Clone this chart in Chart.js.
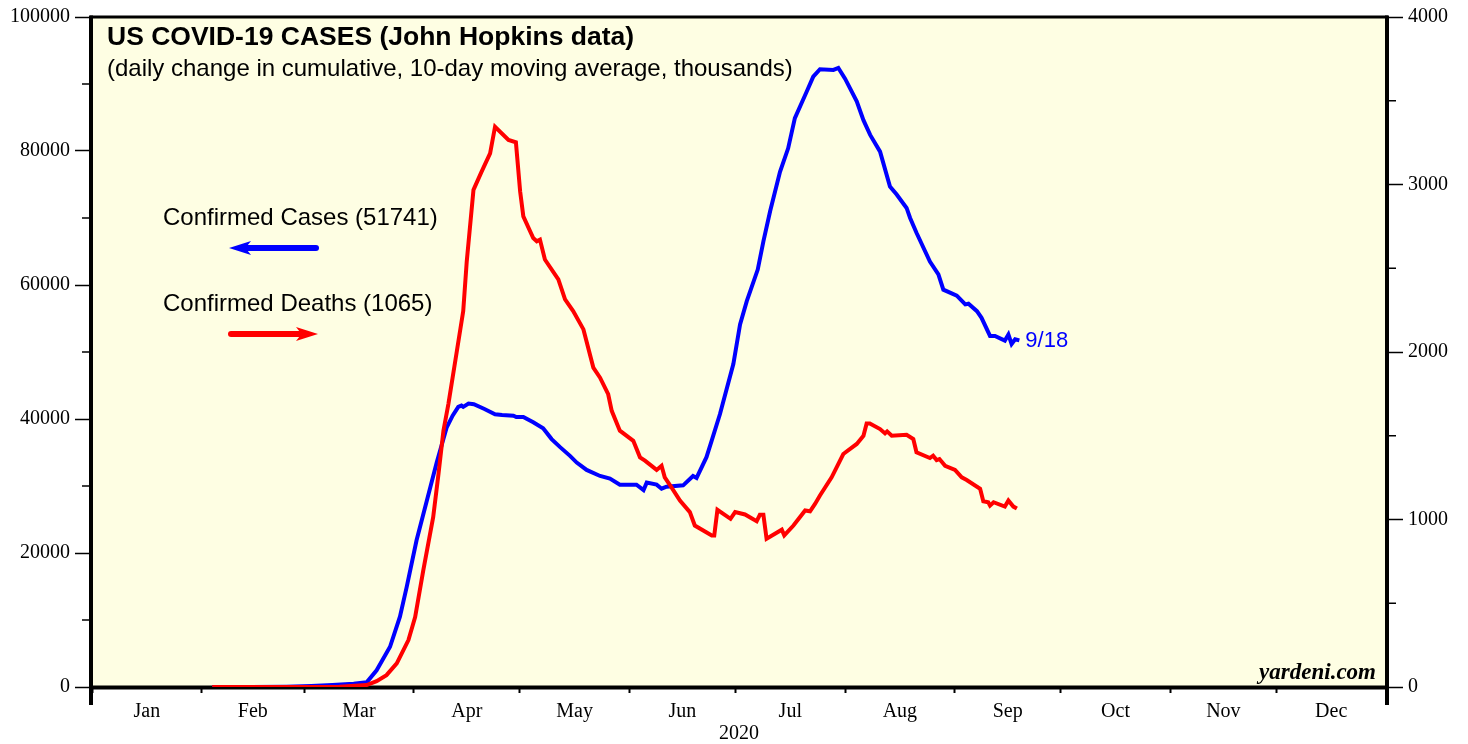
<!DOCTYPE html>
<html>
<head>
<meta charset="utf-8">
<title>US COVID-19 cases</title>
<script src="https://cdn.jsdelivr.net/npm/chart.js@4.4.1/dist/chart.umd.min.js"></script>
<style>
  html, body { margin: 0; padding: 0; background: #fff; }
  #wrap { position: relative; width: 1468px; height: 744px; }
</style>
</head>
<body>
<div id="wrap"><canvas id="chart"></canvas></div>
<script>
// month layout of 2020 (day of year, Jan 1 = 0)
const MONTHS = ["Jan", "Feb", "Mar", "Apr", "May", "Jun", "Jul", "Aug", "Sep", "Oct", "Nov", "Dec"];
const MONTH_STARTS = [0, 31, 60, 91, 121, 152, 182, 213, 244, 274, 305, 335, 366];
const YEAR_LABEL = "2020";

const LEFT_TICKS = [0, 20000, 40000, 60000, 80000, 100000];
const LEFT_MINOR = [10000, 30000, 50000, 70000, 90000];
const RIGHT_TICKS = [0, 1000, 2000, 3000, 4000];
const RIGHT_MINOR = [500, 1500, 2500, 3500];

const LAST_CASES = 51741;
const LAST_DEATHS = 1065;
const LAST_DATE = "9/18";

// confirmed cases, 10-day avg (left axis)
const caseDays = [34, 45, 55, 62, 68, 74, 77.7, 80.5, 84.3, 87.1, 89, 91.8, 94.7, 97.5, 100.3, 102, 103.6, 104.5,
  105, 106.5, 108, 111, 114, 116, 119.2, 120, 122, 124.8, 127.6, 130, 132.4, 135.2, 137.1, 139.9, 143.7, 146.5,
  149.3, 154, 156, 156.9, 159.7, 161.1, 162.5, 167.2, 170, 171, 173.8, 175.3, 177.6, 181.4, 183.3, 185.2, 188.3,
  189.9, 191.8, 194.6, 196.9, 198.8, 202.1, 204, 205.9, 209.7, 211.1, 213, 216.3, 218.2, 220.1, 222.9, 225.7,
  227.6, 230.4, 231.4, 233.2, 237, 239.4, 240.8, 244.6, 247, 247.9, 250.3, 251.6, 254, 255.4, 258.2, 259.2,
  260.1, 261.1, 262.3];
const caseValues = [0, 0, 50, 150, 300, 500, 700, 2500, 6000, 10500, 14900, 21900, 27800, 33500, 38700, 40500, 41800, 42000,
  41800, 42300, 42200, 41500, 40700, 40600, 40500, 40300, 40300, 39500, 38600, 37000, 35800, 34500, 33500, 32400, 31500, 31100,
  30200, 30200, 29400, 30500, 30200, 29600, 29900, 30100, 31500, 31200, 34300, 36800, 40700, 48200, 54100, 57600, 62300,
  66500, 71000, 76900, 80400, 84900, 88800, 91100, 92200, 92100, 92400, 90800, 87400, 84600, 82400, 79900, 74700,
  73500, 71500, 70000, 67800, 63500, 61600, 59300, 58400, 57100, 57200, 56100, 55100, 52400, 52400, 51700, 52600,
  51200, 51900, 51741];

// confirmed deaths, 10-day avg (right axis)
const deathDays = [34, 55, 70, 77.7, 80.5, 83.3, 86.2, 89.5, 91.4, 93.7, 96.5, 98, 99.4, 100.8, 103.2, 105, 106, 107.9,
  110.2, 112.6, 114, 117.8, 119.9, 121.1, 122, 124.8, 125.8, 126.7, 128.1, 131.9, 133.8, 136.1, 139, 141.8, 143.7,
  146, 147, 149.3, 153.1, 155, 156.4, 159.7, 161.1, 162, 163.9, 166.3, 169.1, 170.5, 175.3, 176, 176.9, 180.6,
  181.9, 184.7, 188, 188.9, 189.9, 190.8, 195.1, 195.8, 198.4, 201.7, 203.1, 204.5, 205.9, 209.2, 212.5, 216.3,
  218.2, 219.1, 220, 222.9, 224.3, 224.9, 226.2, 230.4, 232.3, 233.2, 237, 237.9, 238.9, 239.7, 241.3, 244.1,
  246, 247.4, 251.2, 252.1, 253.5, 254, 255, 258.2, 259.2, 260.6, 261.6];
const deathValues = [0, 0, 2, 12, 35, 71, 141, 280, 417, 696, 1014, 1272, 1530, 1689, 2006, 2244, 2542, 2968,
  3077, 3186, 3345, 3266, 3252, 2958, 2810, 2680, 2661, 2671, 2552, 2433, 2314, 2244, 2135, 1907, 1847,
  1748, 1649, 1530, 1470, 1371, 1351, 1296, 1321, 1252, 1192, 1113, 1044, 964, 905, 905, 1058, 1004,
  1044, 1030, 990, 1028, 1028, 885, 939, 905, 964, 1054, 1049, 1093, 1143, 1252, 1391, 1451,
  1500, 1573, 1573, 1540, 1514, 1526, 1500, 1506, 1480, 1401, 1367, 1381, 1355, 1361, 1321, 1296,
  1252, 1236, 1183, 1109, 1103, 1083, 1103, 1077, 1113, 1077, 1065];

const BG = "#fefee3";
const BLUE = "#0000ff";
const RED = "#ff0000";
const SANS = "'Liberation Sans', Arial, sans-serif";
const SERIF = "'Liberation Serif', 'Times New Roman', serif";

const monthMids = MONTHS.map((m, i) => (MONTH_STARTS[i] + MONTH_STARTS[i + 1]) / 2);
const xTicks = MONTH_STARTS.concat(monthMids).sort((a, b) => a - b);

function toPoints(xs, ys) {
  return xs.map((x, i) => ({ x, y: ys[i] }));
}

function arrow(ctx, x1, x2, y, color) {
  // shaft from x1 to the head, head pointing at x2
  const dir = Math.sign(x2 - x1);
  const headLen = 22;
  ctx.save();
  ctx.strokeStyle = color;
  ctx.fillStyle = color;
  ctx.lineWidth = 6;
  ctx.lineCap = "round";
  ctx.beginPath();
  ctx.moveTo(x1, y);
  ctx.lineTo(x2 - dir * headLen * 0.8, y);
  ctx.stroke();
  ctx.beginPath();
  ctx.moveTo(x2, y);
  ctx.lineTo(x2 - dir * headLen, y - 7);
  ctx.lineTo(x2 - dir * headLen * 0.75, y);
  ctx.lineTo(x2 - dir * headLen, y + 7);
  ctx.closePath();
  ctx.fill();
  ctx.restore();
}

const framePlugin = {
  id: "frame",
  beforeDraw(chart) {
    const { ctx, chartArea: a } = chart;
    ctx.save();
    ctx.fillStyle = BG;
    ctx.fillRect(a.left, a.top, a.right - a.left, a.bottom - a.top);
    ctx.restore();
  },
  beforeDatasetsDraw(chart) {
    const { ctx, chartArea: a, scales } = chart;
    ctx.save();
    ctx.strokeStyle = "#000";
    ctx.lineCap = "butt";
    ctx.lineWidth = 3;
    ctx.beginPath();
    ctx.moveTo(a.left - 2, a.top);
    ctx.lineTo(a.right + 2, a.top);
    ctx.stroke();
    ctx.lineWidth = 4;
    ctx.beginPath();
    ctx.moveTo(a.left - 1, a.top - 1.5);
    ctx.lineTo(a.left - 1, a.bottom + 18);
    ctx.moveTo(a.right + 1, a.top - 1.5);
    ctx.lineTo(a.right + 1, a.bottom + 18);
    ctx.moveTo(a.left - 1, a.bottom + 0.5);
    ctx.lineTo(a.right + 1, a.bottom + 0.5);
    ctx.stroke();
    // minor ticks
    ctx.lineWidth = 1.5;
    ctx.beginPath();
    LEFT_MINOR.forEach((v) => {
      const y = scales.y.getPixelForValue(v);
      ctx.moveTo(a.left - 10, y);
      ctx.lineTo(a.left, y);
    });
    RIGHT_MINOR.forEach((v) => {
      const y = scales.y1.getPixelForValue(v);
      ctx.moveTo(a.right, y);
      ctx.lineTo(a.right + 10, y);
    });
    ctx.stroke();
    ctx.restore();
  },
  afterDraw(chart) {
    const { ctx, chartArea: a, scales } = chart;
    ctx.save();
    ctx.fillStyle = "#000";
    ctx.textBaseline = "alphabetic";
    ctx.textAlign = "left";
    ctx.font = `bold 26.5px ${SANS}`;
    ctx.fillText("US COVID-19 CASES (John Hopkins data)", a.left + 15, 45);
    ctx.font = `24px ${SANS}`;
    ctx.fillText("(daily change in cumulative, 10-day moving average, thousands)", a.left + 15, 76);

    ctx.fillText(`Confirmed Cases (${LAST_CASES})`, 163, 225);
    ctx.fillText(`Confirmed Deaths (${LAST_DEATHS})`, 163, 311);
    arrow(ctx, 316, 229, 248, BLUE);
    arrow(ctx, 231, 318, 334, RED);

    // end label next to the last case value
    const lx = scales.x.getPixelForValue(caseDays[caseDays.length - 1]) + 6;
    const ly = scales.y.getPixelForValue(caseValues[caseValues.length - 1]);
    ctx.fillStyle = BLUE;
    ctx.font = `22px ${SANS}`;
    ctx.textBaseline = "middle";
    ctx.fillText(LAST_DATE, lx, ly + 1);

    ctx.fillStyle = "#000";
    ctx.textAlign = "right";
    ctx.textBaseline = "alphabetic";
    ctx.font = `italic bold 23px ${SERIF}`;
    ctx.fillText("yardeni.com", a.right - 10, a.bottom - 8);
    ctx.restore();
  },
};

new Chart(document.getElementById("chart"), {
  type: "line",
  data: {
    datasets: [
      {
        label: "Confirmed Deaths",
        data: toPoints(deathDays, deathValues),
        yAxisID: "y1",
        borderColor: RED,
        borderWidth: 4,
        pointRadius: 0,
        tension: 0,
        order: 1,
      },
      {
        label: "Confirmed Cases",
        data: toPoints(caseDays, caseValues),
        yAxisID: "y",
        borderColor: BLUE,
        borderWidth: 4,
        pointRadius: 0,
        tension: 0,
        order: 2,
      },
    ],
  },
  options: {
    responsive: true,
    maintainAspectRatio: false,
    devicePixelRatio: 1,
    animation: false,
    layout: { padding: { top: 15, left: 0, right: 0, bottom: 0 } },
    plugins: { legend: { display: false }, tooltip: { enabled: false } },
    scales: {
      x: {
        type: "linear",
        position: "bottom",
        min: 0,
        max: 366,
        afterBuildTicks: (s) => { s.ticks = xTicks.map((v) => ({ value: v })); },
        afterFit: (s) => { s.height = 57; },
        ticks: {
          autoSkip: false,
          maxRotation: 0,
          padding: 7,
          color: "#000",
          font: { family: SERIF, size: 20 },
          callback: (v) => {
            const i = monthMids.indexOf(v);
            return i >= 0 ? MONTHS[i] : "";
          },
        },
        grid: {
          drawOnChartArea: false,
          drawTicks: true,
          tickLength: 6,
          tickWidth: 2,
          tickColor: (c) => (MONTH_STARTS.includes(c.tick && c.tick.value) ? "#000" : "rgba(0,0,0,0)"),
        },
        border: { display: false },
        title: {
          display: true,
          text: YEAR_LABEL,
          color: "#000",
          font: { family: SERIF, size: 20 },
          padding: { top: 0, bottom: -2 },
        },
      },
      y: {
        position: "left",
        min: 0,
        max: 100000,
        afterBuildTicks: (s) => { s.ticks = LEFT_TICKS.map((v) => ({ value: v })); },
        afterFit: (s) => { s.width = 92; },
        ticks: {
          padding: 5,
          color: "#000",
          font: { family: SERIF, size: 20 },
          callback: (v) => String(v),
        },
        grid: { drawOnChartArea: false, drawTicks: true, tickLength: 17, tickWidth: 1.5, tickColor: "#000" },
        border: { display: false },
      },
      y1: {
        position: "right",
        min: 0,
        max: 4000,
        afterBuildTicks: (s) => { s.ticks = RIGHT_TICKS.map((v) => ({ value: v })); },
        afterFit: (s) => { s.width = 82; },
        ticks: {
          padding: 5,
          color: "#000",
          font: { family: SERIF, size: 20 },
          callback: (v) => String(v),
        },
        grid: { drawOnChartArea: false, drawTicks: true, tickLength: 17, tickWidth: 1.5, tickColor: "#000" },
        border: { display: false },
      },
    },
  },
  plugins: [framePlugin],
});
</script>
</body>
</html>
